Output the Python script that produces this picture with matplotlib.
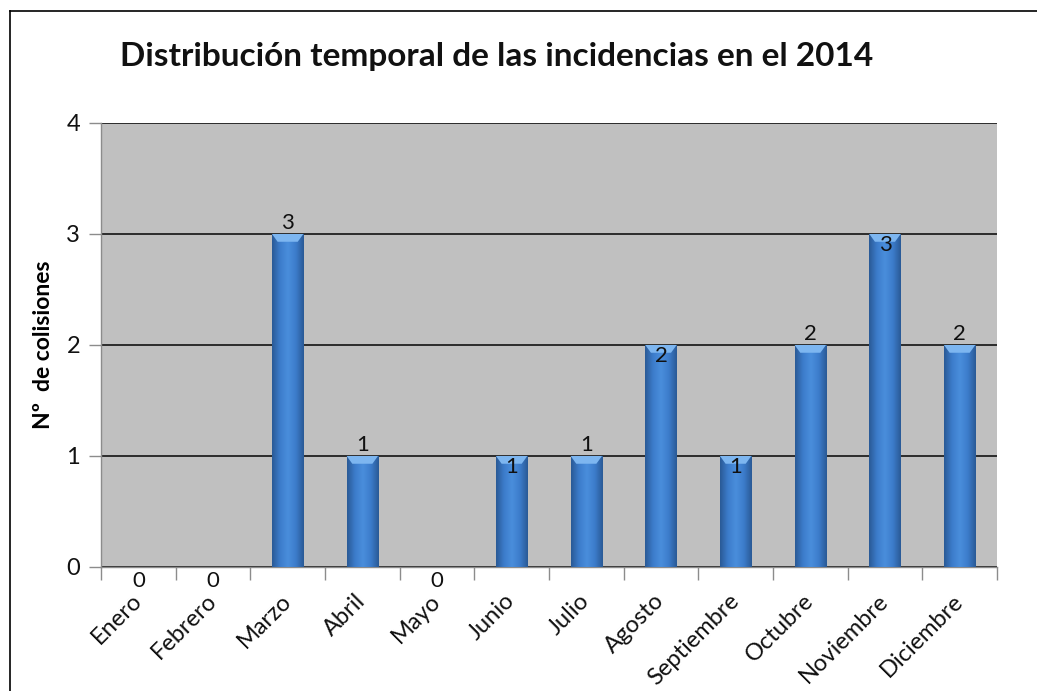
import matplotlib
matplotlib.use("Agg")
import matplotlib.pyplot as plt
import numpy as np
from matplotlib.patches import Polygon
from matplotlib.colors import LinearSegmentedColormap

months = ["Enero", "Febrero", "Marzo", "Abril", "Mayo", "Junio", "Julio",
          "Agosto", "Septiembre", "Octubre", "Noviembre", "Diciembre"]
values = [0, 0, 3, 1, 0, 1, 1, 2, 1, 2, 3, 2]
# label placement as in the original: "out" above the bar, "in" inside top, "zero" below axis
label_pos = ["zero", "zero", "out", "out", "zero", "in", "out", "in", "in", "out", "in", "out"]
yticks = [0, 1, 2, 3, 4]

plt.rcParams['font.family'] = ['Lato', 'DejaVu Sans']

fig = plt.figure(figsize=(10.37, 6.91), dpi=100)
ax = fig.add_axes([0.0974, 0.1795, 0.864, 0.6425])
ax.set_facecolor("#C0C0C0")

x = np.arange(len(months))
bars = ax.bar(x, values, width=0.42, color="#3A75C0", zorder=3, linewidth=0)

cmap = LinearSegmentedColormap.from_list(
    "bar", ["#2A5A96", "#3C7CCB", "#4A8EDC", "#3C7CCB", "#2A5A96"])
grad = np.linspace(0, 1, 100).reshape(1, -1)
for b in bars:
    h = b.get_height()
    if h <= 0:
        continue
    x0, w = b.get_x(), b.get_width()
    im = ax.imshow(grad, cmap=cmap, aspect="auto", extent=[x0, x0 + w, 0, h],
                   zorder=4, interpolation="bicubic")
    im.set_clip_path(b)
    # top chamfer highlight
    ch = 0.07
    inset = w * 0.18
    poly = Polygon([[x0, h], [x0 + w, h], [x0 + w - inset, h - ch], [x0 + inset, h - ch]],
                   closed=True, facecolor="#7DB6F0", edgecolor="none", zorder=5)
    ax.add_patch(poly)

ax.set_xlim(-0.5, len(months) - 0.5)
ax.set_ylim(0, 4)
ax.set_yticks(yticks)
ax.yaxis.grid(True, color="#2B2B2B", linewidth=1.4, zorder=1)
ax.set_axisbelow(True)

for sp in ["top", "right"]:
    ax.spines[sp].set_visible(False)
ax.spines["left"].set_color("#8C8C8C")
ax.spines["bottom"].set_color("#8C8C8C")
ax.spines["left"].set_linewidth(1.0)
ax.spines["bottom"].set_linewidth(1.0)

ax.tick_params(axis="y", length=9, width=1, color="#8C8C8C", labelsize=17, pad=6,
               labelcolor="#111111")
ax.set_xticks(np.arange(-0.5, len(months), 1.0), minor=False)
ax.set_xticklabels([])
ax.set_xticks(x, minor=True)
ax.set_xticklabels(months, minor=True, rotation=45, ha="right", va="center",
                   rotation_mode="anchor", fontsize=17)
ax.tick_params(axis="x", which="major", length=9, width=1, color="#8C8C8C", direction="out")
ax.tick_params(axis="x", which="minor", length=0, pad=22, labelcolor="#111111")

for xi, v, pos in zip(x, values, label_pos):
    if pos == "out":
        ax.annotate(str(v), (xi, v), xytext=(0, 1), textcoords="offset points",
                    ha="center", va="bottom", fontsize=16, color="#111111", zorder=6)
    elif pos == "in":
        ax.annotate(str(v), (xi, v), xytext=(0, -1), textcoords="offset points",
                    ha="center", va="top", fontsize=16, color="#111111", zorder=6)
    else:
        ax.annotate(str(v), (xi, v), xytext=(0, -3), textcoords="offset points",
                    ha="center", va="top", fontsize=16, color="#111111", zorder=6,
                    annotation_clip=False)

ax.set_ylabel("Nº  de colisiones", fontsize=16.5, fontweight="bold", labelpad=9)
fig.text(0.479, 0.918, "Distribución temporal de las incidencias en el 2014",
         ha="center", va="center", fontsize=24, fontweight="bold", color="#111111")

# outer chart border (top and left visible in the original crop)
fig.add_artist(plt.Line2D([10 / 1037, 10 / 1037], [0, 1 - 11 / 691], color="black",
                          linewidth=1.2, transform=fig.transFigure))
fig.add_artist(plt.Line2D([10 / 1037, 1], [1 - 11 / 691, 1 - 11 / 691], color="black",
                          linewidth=1.2, transform=fig.transFigure))

fig.savefig("out.png", dpi=100, facecolor="white")
